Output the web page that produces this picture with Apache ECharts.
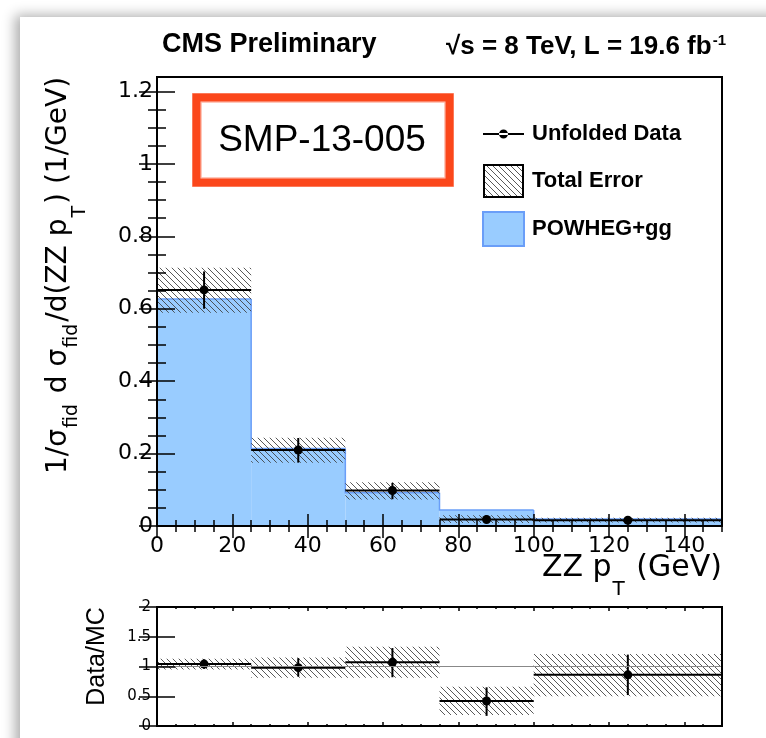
<!DOCTYPE html>
<html><head><meta charset="utf-8">
<script src="https://cdn.jsdelivr.net/npm/echarts@6/dist/echarts.min.js"></script>
<style>
html,body{margin:0;padding:0;background:#fff;overflow:hidden;}
#page{position:absolute;left:20px;top:17px;width:800px;height:800px;background:#fff;box-shadow:-5px -2px 12px rgba(0,0,0,0.32);}
#chart{position:absolute;left:0;top:0;width:766px;height:738px;}
</style></head><body>
<div id="page"></div><div id="chart"></div>
<script>
// ---------------- data ----------------
const binEdges = [0, 25, 50, 75, 100, 150];
const binCenters = [12.5, 37.5, 62.5, 87.5, 125];
const mcValues = [0.627, 0.214, 0.092, 0.044, 0.019];
const dataValues = [0.652, 0.210, 0.098, 0.018, 0.016];
const dataErrLow = [0.600, 0.175, 0.074, 0.008, 0.010];
const dataErrHigh = [0.703, 0.243, 0.119, 0.029, 0.0225];
const bandLow = [0.589, 0.175, 0.073, 0.008, 0.0095];
const bandHigh = [0.713, 0.244, 0.121, 0.030, 0.023];
const ratioValues = [1.04, 0.98, 1.07, 0.42, 0.86];
const ratioErrLow = [0.96, 0.83, 0.82, 0.17, 0.52];
const ratioErrHigh = [1.12, 1.14, 1.31, 0.65, 1.20];
const ratioBandLow = [0.95, 0.81, 0.81, 0.185, 0.50];
const ratioBandHigh = [1.13, 1.15, 1.33, 0.66, 1.21];
const ratioLine = [[0, 1], [150, 1]];
const xMajorTicks = [0, 20, 40, 60, 80, 100, 120, 140];
const xMinorTicks = [0, 5, 10, 15, 20, 25, 30, 35, 40, 45, 50, 55, 60, 65, 70, 75, 80, 85, 90, 95, 100, 105, 110, 115, 120, 125, 130, 135, 140, 145, 150];
const yMajorTicks = [0, 0.2, 0.4, 0.6, 0.8, 1, 1.2];
const yMinorTicks = [0, 0.05, 0.1, 0.15, 0.2, 0.25, 0.3, 0.35, 0.4, 0.45, 0.5, 0.55, 0.6, 0.65, 0.7, 0.75, 0.8, 0.85, 0.9, 0.95, 1, 1.05, 1.1, 1.15, 1.2];
const ratioYTicks = [0, 0.5, 1, 1.5, 2];

// ---------------- helpers ----------------
const FONT = '"Liberation Sans", Arial, Helvetica, sans-serif';
const RFONT = '"DejaVu Sans", "Liberation Sans", sans-serif';
function hatchCanvas(w, h, boxed) {
  const c = document.createElement('canvas'); c.width = w; c.height = h;
  const g = c.getContext('2d');
  if (boxed) { g.fillStyle = '#fff'; g.fillRect(0, 0, w, h); }
  g.strokeStyle = 'rgba(60,60,60,0.85)'; g.lineWidth = 1;
  g.beginPath();
  for (let k = -h - 6; k < w + 6; k += 6) { g.moveTo(k, 0); g.lineTo(k + h, h); }
  g.stroke();
  if (boxed) { g.strokeStyle = '#000'; g.lineWidth = 2; g.strokeRect(1, 1, w - 2, h - 2); }
  return c;
}
const hatchPattern = { image: hatchCanvas(12, 12, false), repeat: 'repeat' };
const hatchIcon = 'image://' + hatchCanvas(41, 34, true).toDataURL();
const dataIcon = 'path://M0,0L0.01,0L0,0.01Z M40.99,34L41,34L41,33.99Z M0,16H41V18H0Z M16,17A4.5,4.5,0,1,0,25,17A4.5,4.5,0,1,0,16,17Z';

const mcRows = mcValues.map((v, i) => [binEdges[i], binEdges[i + 1], v, i === 0 ? 0 : mcValues[i - 1]]);
const bandRows = bandLow.map((v, i) => [binEdges[i], binEdges[i + 1], v, bandHigh[i]]);
const dataRows = dataValues.map((v, i) => [binEdges[i], binEdges[i + 1], binCenters[i], v, dataErrLow[i], dataErrHigh[i]]);
const rBandRows = ratioBandLow.map((v, i) => [binEdges[i], binEdges[i + 1], v, ratioBandHigh[i]]);
const rDataRows = ratioValues.map((v, i) => [binEdges[i], binEdges[i + 1], binCenters[i], v, ratioErrLow[i], ratioErrHigh[i]]);

function mcRender(params, api) {
  const lo = api.value(0), hi = api.value(1), v = api.value(2), prev = api.value(3);
  const p0 = api.coord([lo, 0]), p1 = api.coord([hi, v]), pp = api.coord([lo, prev]);
  return { type: 'group', children: [
    { type: 'rect', shape: { x: p0[0], y: p1[1], width: p1[0] - p0[0], height: p0[1] - p1[1] }, style: { fill: '#99ccff' } },
    { type: 'polyline', shape: { points: [pp, [p0[0], p1[1]], p1] }, style: { stroke: '#6a9ef8', lineWidth: 1.5, fill: 'none' } }
  ] };
}
function bandRender(params, api) {
  const a = api.coord([api.value(0), api.value(3)]);
  const b = api.coord([api.value(1), api.value(2)]);
  return { type: 'rect', shape: { x: a[0], y: a[1], width: b[0] - a[0], height: b[1] - a[1] }, style: { fill: hatchPattern } };
}
function dataRender(params, api) {
  const lo = api.value(0), hi = api.value(1), c = api.value(2), v = api.value(3), el = api.value(4), eh = api.value(5);
  const pl = api.coord([lo, v]), ph = api.coord([hi, v]), pc = api.coord([c, v]);
  const pel = api.coord([c, el]), peh = api.coord([c, eh]);
  return { type: 'group', children: [
    { type: 'line', shape: { x1: pl[0], y1: pl[1], x2: ph[0], y2: ph[1] }, style: { stroke: '#000', lineWidth: 2 } },
    { type: 'line', shape: { x1: pel[0], y1: pel[1], x2: peh[0], y2: peh[1] }, style: { stroke: '#000', lineWidth: 2 } },
    { type: 'circle', shape: { cx: pc[0], cy: pc[1], r: 4.5 }, style: { fill: '#000' } }
  ] };
}

function axis(base, ticks, len, label) {
  return Object.assign({
    type: 'value', z: 10, axisLine: { show: false }, splitLine: { show: false },
    axisTick: { show: true, inside: true, length: len, customValues: ticks, lineStyle: { color: '#000', width: 1.5 } },
    axisLabel: label || { show: false }
  }, base);
}
const xLab = { show: true, customValues: xMajorTicks, fontSize: 22, fontFamily: RFONT, color: '#000', margin: 9 };
const yLab = { show: true, customValues: yMajorTicks, fontSize: 22, fontFamily: RFONT, color: '#000', margin: 4 };
const rLab = { show: true, customValues: ratioYTicks, fontSize: 15, fontFamily: RFONT, color: '#000', margin: 6 };

const xMain = { gridIndex: 0, min: 0, max: 150 };
const yMain = { gridIndex: 0, min: 0, max: 1.24 };
const xRat = { gridIndex: 1, min: 0, max: 150 };
const yRat = { gridIndex: 1, min: 0, max: 2 };

const chart = echarts.init(document.getElementById('chart'), null, { renderer: 'canvas' });
chart.setOption({
  animation: false,
  backgroundColor: 'transparent',
  textStyle: { fontFamily: FONT },
  title: [
    { text: 'CMS Preliminary', left: 162, top: 31, padding: 0,
      textStyle: { fontSize: 27, fontWeight: 'bold', fontFamily: FONT, color: '#000' } },
    { text: '√s = 8 TeV, L = 19.6 fb{sup|-1}', right: 40, top: 31, padding: 0,
      textStyle: { fontSize: 26, fontWeight: 'bold', fontFamily: FONT, color: '#000', lineHeight: 31,
        rich: { sup: { fontSize: 15, fontWeight: 'bold', fontFamily: FONT, color: '#000', lineHeight: 31, padding: [0, 0, 12, 1] } } } }
  ],
  grid: [
    { left: 157, right: 44, top: 77, height: 449, show: true, z: 10, borderColor: '#000', borderWidth: 2, backgroundColor: 'transparent' },
    { left: 157, right: 44, top: 607, height: 119, show: true, z: 10, borderColor: '#000', borderWidth: 2, backgroundColor: 'transparent' }
  ],
  legend: {
    orient: 'vertical', left: 482, top: 117, padding: 0, itemWidth: 41, itemHeight: 34, itemGap: 13, selectedMode: false,
    textStyle: { fontSize: 22, fontWeight: 'bold', fontFamily: FONT, color: '#000', padding: [0, 0, 0, 3] },
    data: [
      { name: 'Unfolded Data', icon: dataIcon, itemStyle: { color: '#000' } },
      { name: 'Total Error', icon: hatchIcon },
      { name: 'POWHEG+gg', icon: 'rect', itemStyle: { color: '#99ccff', borderColor: '#6a9ef8', borderWidth: 2 } }
    ]
  },
  xAxis: [
    axis(Object.assign({ position: 'bottom',
      name: 'ZZ p{t|T} (GeV)', nameLocation: 'end', nameGap: 0, nameMoveOverlap: false,
      nameTextStyle: { fontSize: 30, fontFamily: RFONT, color: '#000', lineHeight: 34, align: 'right', verticalAlign: 'top', padding: [25, 0, 0, 0],
        rich: { t: { fontSize: 20, fontFamily: RFONT, color: '#000', lineHeight: 34, padding: [44, 2, 0, 1] } } } }, xMain), xMajorTicks, 12, xLab),
    axis(Object.assign({ position: 'bottom' }, xMain), xMinorTicks, 6),
    axis(Object.assign({ position: 'top' }, xMain), xMajorTicks, 12),
    axis(Object.assign({ position: 'top' }, xMain), xMinorTicks, 6),
    axis(Object.assign({ position: 'bottom' }, xRat), xMajorTicks, 4),
    axis(Object.assign({ position: 'bottom' }, xRat), xMinorTicks, 2),
    axis(Object.assign({ position: 'top' }, xRat), xMajorTicks, 4),
    axis(Object.assign({ position: 'top' }, xRat), xMinorTicks, 2)
  ],
  yAxis: [
    axis(Object.assign({ position: 'left',
      name: '1/σ{f|fid} d σ{f|fid}/d(ZZ p{t|T}) (1/GeV)', nameLocation: 'middle', nameGap: 81, nameRotate: 90, nameMoveOverlap: false,
      nameTextStyle: { fontSize: 28, fontFamily: RFONT, color: '#000', lineHeight: 34, padding: [0, 0, 0, 52],
        rich: {
          f: { fontSize: 19, fontFamily: RFONT, color: '#000', lineHeight: 34, padding: [27, 2, 0, 1] },
          t: { fontSize: 19, fontFamily: RFONT, color: '#000', lineHeight: 34, padding: [42, 2, 0, 1] }
        } } }, yMain), yMajorTicks, 18, yLab),
    axis(Object.assign({ position: 'left' }, yMain), yMinorTicks, 9),
    axis(Object.assign({ position: 'right' }, yMain), yMajorTicks, 18),
    axis(Object.assign({ position: 'right' }, yMain), yMinorTicks, 9),
    axis(Object.assign({ position: 'left',
      name: 'Data/MC', nameLocation: 'middle', nameGap: 46, nameRotate: 90, nameMoveOverlap: false,
      nameTextStyle: { fontSize: 25, fontFamily: FONT, color: '#000', lineHeight: 28, padding: [0, 0, 0, 20] } }, yRat), ratioYTicks, 18, rLab),
    axis(Object.assign({ position: 'right' }, yRat), ratioYTicks, 18)
  ],
  graphic: [
    { type: 'rect', z: 20, shape: { x: 196.5, y: 97.5, width: 253, height: 85 }, style: { fill: 'none', stroke: '#fb471b', lineWidth: 8 } },
    { type: 'rect', z: 20, shape: { x: 193, y: 94, width: 260, height: 92 }, style: { fill: 'none', stroke: 'rgba(251,71,27,0.45)', lineWidth: 2 } },
    { type: 'rect', z: 20, shape: { x: 201, y: 102, width: 244, height: 76 }, style: { fill: 'none', stroke: 'rgba(251,71,27,0.4)', lineWidth: 1.5 } },
    { type: 'text', z: 20, x: 322, y: 141, style: { text: 'SMP-13-005', fontSize: 37, fontFamily: FONT, fill: '#000', align: 'center', verticalAlign: 'middle' } }
  ],
  series: [
    { name: 'POWHEG+gg', type: 'custom', xAxisIndex: 0, yAxisIndex: 0, renderItem: mcRender, data: mcRows,
      itemStyle: { color: '#99ccff', borderColor: '#6a9ef8', borderWidth: 2 }, silent: true },
    { name: 'Total Error', type: 'custom', xAxisIndex: 0, yAxisIndex: 0, renderItem: bandRender, data: bandRows,
      itemStyle: { color: '#777' }, silent: true },
    { name: 'Unfolded Data', type: 'custom', xAxisIndex: 0, yAxisIndex: 0, renderItem: dataRender, data: dataRows,
      itemStyle: { color: '#000' }, silent: true },
    { name: 'Ratio Error', type: 'custom', xAxisIndex: 4, yAxisIndex: 4, renderItem: bandRender, data: rBandRows, silent: true },
    { name: 'Unity', type: 'line', xAxisIndex: 4, yAxisIndex: 4, data: ratioLine, showSymbol: false, symbol: 'none',
      lineStyle: { color: '#888', width: 1 }, silent: true },
    { name: 'Ratio Data', type: 'custom', xAxisIndex: 4, yAxisIndex: 4, renderItem: dataRender, data: rDataRows,
      itemStyle: { color: '#000' }, silent: true }
  ]
});
</script></body></html>
